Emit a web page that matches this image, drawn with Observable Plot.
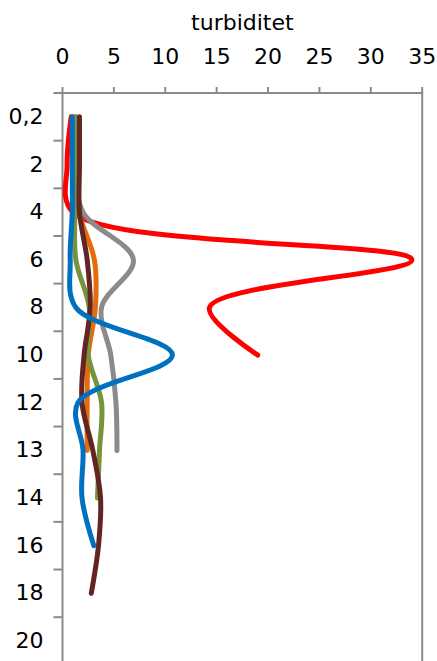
<!DOCTYPE html>
<html><head><meta charset="utf-8">
<script src="https://cdn.jsdelivr.net/npm/d3@7"></script>
<script src="https://cdn.jsdelivr.net/npm/@observablehq/plot@0.6"></script>
<style>html,body{margin:0;padding:0;background:#fff}#chart svg{display:block}</style>
</head><body><div id="chart"></div>
<script>
// Depth categories (vertical axis, evenly spaced)
const depthLabels = ["0,2","2","4","6","8","10","12","13","14","16","18","20"];
const xTicks = [0, 5, 10, 15, 20, 25, 30, 35];

// Turbidity profiles, one value per depth category (from the top)
const redValues    = [0.85, 0.45, 1.0, 34, 14.3, 19];
const grayValues   = [1.3, 1.3, 2.0, 6.9, 3.8, 4.7, 5.2, 5.3];
const orangeValues = [1.1, 1.2, 1.6, 3.1, 3.2, 2.5, 2.4, 2.4];
const greenValues  = [1.3, 1.3, 1.2, 1.3, 2.6, 2.5, 3.8, 3.6, 3.4];
const brownValues  = [1.65, 1.65, 1.65, 2.4, 2.7, 2.1, 1.9, 2.95, 3.7, 3.5, 2.8];
const blueValues   = [0.95, 0.95, 0.95, 0.75, 1.3, 10.7, 1.5, 2.0, 1.9, 3.05];

const seriesList = [
  {name: "rød", values: redValues, color: "#ff0000"},
  {name: "grå", values: grayValues, color: "#8b8b8b"},
  {name: "oransje", values: orangeValues, color: "#e46c0a"},
  {name: "grønn", values: greenValues, color: "#77933c"},
  {name: "brun", values: brownValues, color: "#632523"},
  {name: "blå", values: blueValues, color: "#0070c0"}
];

const axisGray = "#8a8a8a";
const boundaries = d3.range(-0.5, depthLabels.length - 1, 1);

const lineMarks = seriesList.map(s =>
  Plot.line(s.values.map((v, i) => ({depth: i, value: v})), {
    x: "value", y: "depth", stroke: s.color, strokeWidth: 5,
    curve: "catmull-rom", strokeLinecap: "round", strokeLinejoin: "round"
  })
);

const chart = Plot.plot({
  width: 437, height: 661,
  marginTop: 92.5, marginLeft: 62, marginRight: 15.3, marginBottom: 0,
  style: {fontFamily: "DejaVu Sans", fontSize: "22px", color: "#000", background: "#fff", overflow: "visible"},
  x: {domain: [0, 35]},
  y: {domain: [-0.5, 11.43], reverse: true},
  marks: [
    Plot.ruleX([0, 35], {stroke: axisGray, strokeWidth: 2}),
    Plot.ruleY([-0.5], {stroke: axisGray, strokeWidth: 2}),
    Plot.axisX(xTicks, {anchor: "top", tickSize: 6.5, tickPadding: 23, stroke: axisGray, strokeWidth: 2,
      fill: "#000", label: "turbiditet", labelAnchor: "center", labelOffset: 79, labelArrow: "none"}),
    Plot.axisY(boundaries, {anchor: "left", tickSize: 8.5, stroke: axisGray, strokeWidth: 2, fill: "none", label: null}),
    Plot.axisY(d3.range(depthLabels.length), {anchor: "left", tickSize: 0, tickPadding: 19,
      tickFormat: i => depthLabels[i], fill: "#000", label: null}),
    ...lineMarks
  ]
});
document.getElementById("chart").append(chart);
</script>
</body></html>
